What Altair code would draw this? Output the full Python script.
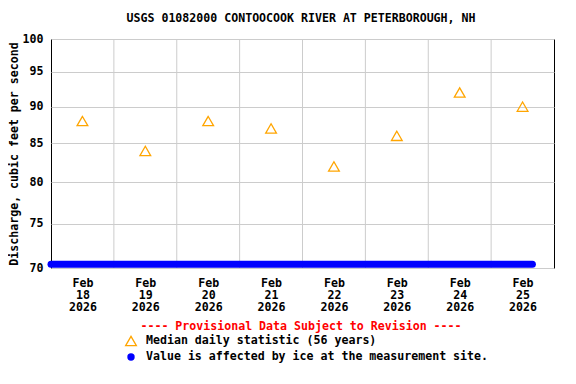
import altair as alt
import pandas as pd

# ---- data ----
title_text = "USGS 01082000 CONTOOCOOK RIVER AT PETERBOROUGH, NH"
y_title = "Discharge, cubic feet per second"
median_dates = ["2026-02-18T12:00:00", "2026-02-19T12:00:00", "2026-02-20T12:00:00",
                "2026-02-21T12:00:00", "2026-02-22T12:00:00", "2026-02-23T12:00:00",
                "2026-02-24T12:00:00", "2026-02-25T12:00:00"]
median_values = [88, 84, 88, 87, 82, 86, 92, 90]
ice_dates = ["2026-02-18T00:00:00", "2026-02-25T15:45:00"]
ice_values = [70.4, 70.4]
grid_dates = ["2026-02-19T00:00:00", "2026-02-20T00:00:00", "2026-02-21T00:00:00",
              "2026-02-22T00:00:00", "2026-02-23T00:00:00", "2026-02-24T00:00:00",
              "2026-02-25T00:00:00"]
x_domain = ["2026-02-18T00:00:00", "2026-02-26T00:00:00"]
y_ticks = [70, 75, 80, 85, 90, 95, 100]
provisional_text = "---- Provisional Data Subject to Revision ----"
legend_labels = ["Median daily statistic (56 years)",
                 "Value is affected by ice at the measurement site."]

FONT = "DejaVu Sans Mono"
FS = 11.6
ORANGE = "#FFA500"
BLUE = "#0000FF"


def dt(s):
    t = pd.Timestamp(s)
    return alt.DateTime(year=t.year, month=t.month, date=t.day,
                        hours=t.hour, minutes=t.minute)


xscale = alt.Scale(domain=[dt(d) for d in x_domain])
yscale = alt.Scale(type="log", domain=[y_ticks[0], y_ticks[-1]], nice=False, zero=False)

xaxis = alt.Axis(values=[dt(d) for d in median_dates], grid=False, domain=False,
                 ticks=False, labelOverlap=False, labelBaseline="top",
                 labelPadding=9, labelLineHeight=12, labelFont=FONT,
                 labelFontSize=FS, labelFontWeight="bold", labelColor="black",
                 labelExpr="[timeFormat(datum.value, '%b'), timeFormat(datum.value, '%d'), timeFormat(datum.value, '%Y')]")
yaxis = alt.Axis(values=y_ticks, grid=True, gridColor="#cccccc", domain=False,
                 ticks=False, labelPadding=8, labelFont=FONT, labelFontSize=FS,
                 labelFontWeight="bold", labelColor="black", titleFont=FONT,
                 titleFontSize=FS, titleFontWeight="bold", titleColor="black",
                 titlePadding=3, labelOverlap=False)

med_df = pd.DataFrame({"date": median_dates, "value": median_values})
ice_df = pd.DataFrame({"date": ice_dates, "value": ice_values})
grid_df = pd.DataFrame({"date": grid_dates})

grid = alt.Chart(grid_df).mark_rule(color="#cccccc", strokeWidth=1).encode(
    x=alt.X("date:T", scale=xscale, axis=xaxis, title=None)
)

ice = alt.Chart(ice_df).mark_line(color=BLUE, strokeWidth=7, strokeCap="round").encode(
    x=alt.X("date:T", scale=xscale, axis=xaxis, title=None),
    y=alt.Y("value:Q", scale=yscale, axis=yaxis, title=y_title),
)

med = alt.Chart(med_df).mark_point(shape="triangle-up", filled=False, color=ORANGE,
                                   size=115, strokeWidth=1.3, opacity=1).encode(
    x=alt.X("date:T", scale=xscale, axis=xaxis, title=None),
    y=alt.Y("value:Q", scale=yscale, axis=yaxis, title=y_title),
)

one = alt.Data(values=[{}])

title_mark = alt.Chart(one).mark_text(text=title_text, font=FONT, fontSize=FS,
                                      fontWeight="bold", color="black",
                                      align="center", baseline="middle").encode(
    x=alt.value(250), y=alt.value(-20))

prov = alt.Chart(one).mark_text(text=provisional_text, font=FONT, fontSize=FS,
                                fontWeight="bold", color="#FF0000",
                                align="center", baseline="middle").encode(
    x=alt.value(250), y=alt.value(288))

leg_tri = alt.Chart(one).mark_point(shape="triangle-up", filled=False, color=ORANGE,
                                    size=115, strokeWidth=1.3, opacity=1).encode(
    x=alt.value(80), y=alt.value(302))
leg_tri_txt = alt.Chart(one).mark_text(text=legend_labels[0], font=FONT, fontSize=FS,
                                       fontWeight="bold", color="black",
                                       align="left", baseline="middle").encode(
    x=alt.value(95), y=alt.value(302))
leg_dot = alt.Chart(one).mark_point(shape="circle", filled=True, color=BLUE,
                                    size=55, opacity=1).encode(
    x=alt.value(80), y=alt.value(318))
leg_dot_txt = alt.Chart(one).mark_text(text=legend_labels[1], font=FONT, fontSize=FS,
                                       fontWeight="bold", color="black",
                                       align="left", baseline="middle").encode(
    x=alt.value(95), y=alt.value(318))

chart = alt.layer(grid, ice, med, title_mark, prov, leg_tri, leg_tri_txt,
                  leg_dot, leg_dot_txt).properties(
    width=503, height=229,
    autosize=alt.AutoSizeParams(type="none"),
    padding={"left": 43, "top": 31, "right": 14, "bottom": 108},
    background="white",
).configure_view(stroke="black", strokeWidth=1)

chart.save("out.html", embed_options={"renderer": "svg", "actions": False})
